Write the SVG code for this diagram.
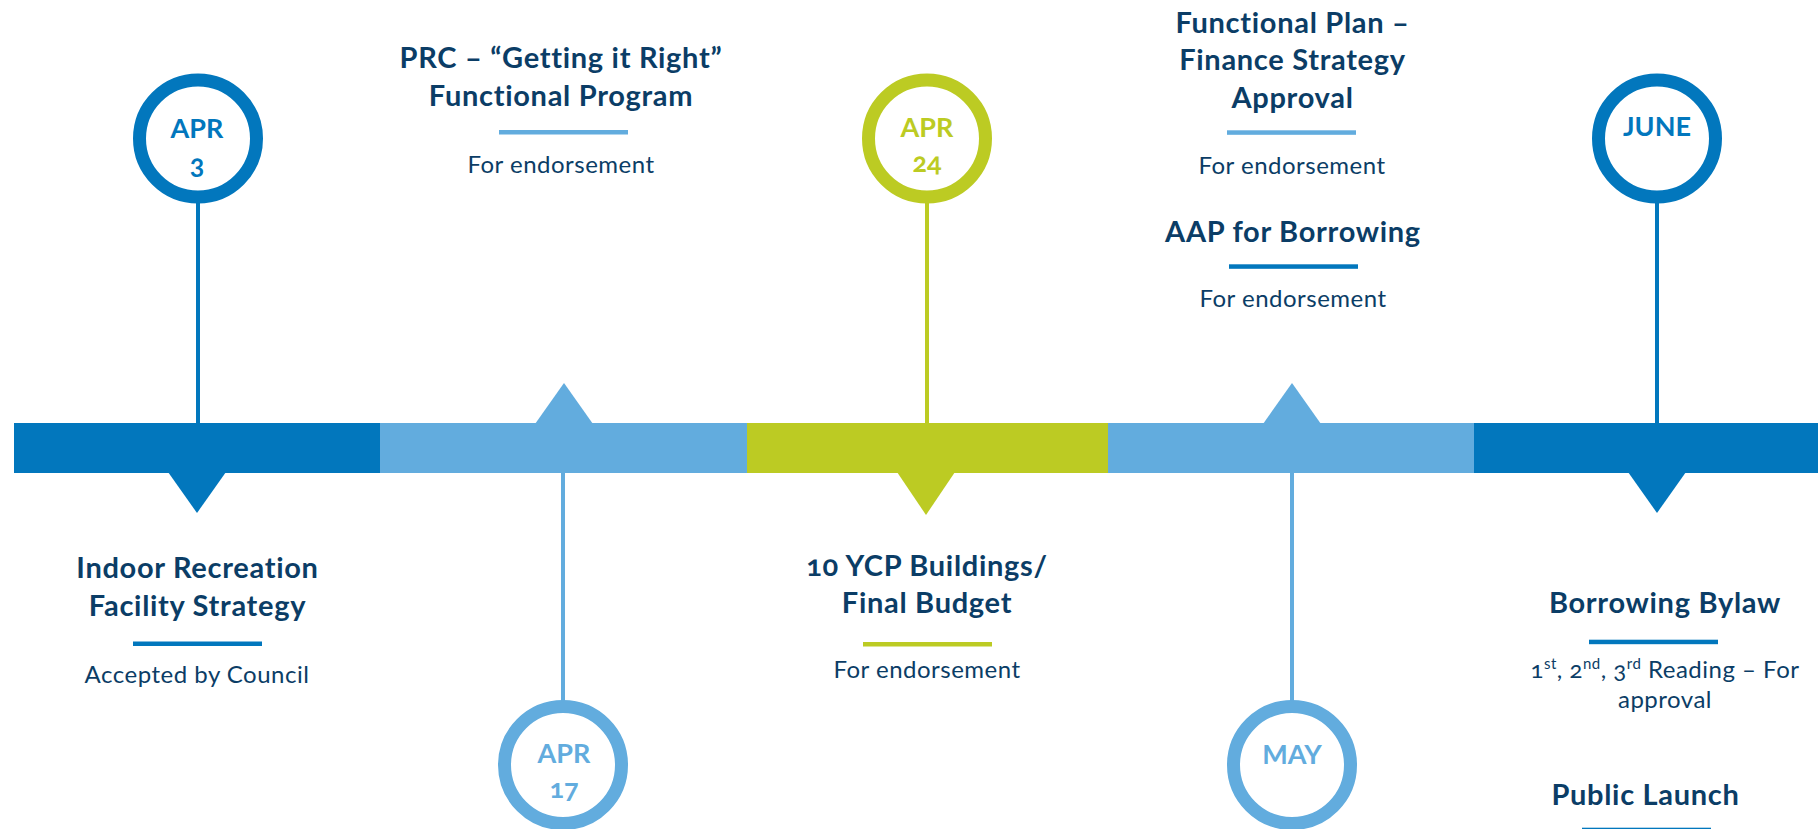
<svg xmlns="http://www.w3.org/2000/svg" width="1818" height="829" viewBox="0 0 1818 829">
  <style>
    .head { font-family: Lato, "Open Sans", "Liberation Sans", sans-serif; font-weight: 700; font-size: 29px; letter-spacing: 0.7px; fill: #0b3d66; text-anchor: middle; }
    .sub { font-family: Lato, "Open Sans", "Liberation Sans", sans-serif; font-weight: 400; font-size: 24px; letter-spacing: 0.5px; fill: #0b3d66; text-anchor: middle; }
    .date { font-family: Lato, "Open Sans", "Liberation Sans", sans-serif; font-weight: 700; font-size: 27px; text-anchor: middle; font-variant-numeric: oldstyle-nums; }
    .num { font-variant-numeric: oldstyle-nums; }
    .ring { fill: #ffffff; stroke-width: 13; }
    .dark { fill: #0277bd; }
    .light { fill: #62acde; }
    .green { fill: #bccb23; }
    .ring.dark { fill: #ffffff; stroke: #0277bd; }
    .ring.light { fill: #ffffff; stroke: #62acde; }
    .ring.green { fill: #ffffff; stroke: #bccb23; }
    .stem { stroke-width: 4; fill: none; }
  </style>

  <!-- timeline bar: five coloured segments with pointers -->
  <g id="timeline-bar">
    <rect class="dark" x="14" y="423" width="366" height="50"/>
    <rect class="light" x="380" y="423" width="367" height="50"/>
    <rect class="green" x="747" y="423" width="361" height="50"/>
    <rect class="light" x="1108" y="423" width="366" height="50"/>
    <rect class="dark" x="1474" y="423" width="344" height="50"/>
    <polygon class="dark" points="168,472 226,472 197,513"/>
    <polygon class="light" points="535,424 593,424 564,383"/>
    <polygon class="green" points="897,472 955,472 926,515"/>
    <polygon class="light" points="1263,424 1321,424 1292,383"/>
    <polygon class="dark" points="1628,472 1686,472 1657,513"/>
  </g>

  <!-- stems joining each date ring to the bar -->
  <g id="connectors">
    <line class="stem" stroke="#0277bd" x1="198" y1="200" x2="198" y2="424"/>
    <line class="stem" stroke="#62acde" x1="563" y1="472" x2="563" y2="703"/>
    <line class="stem" stroke="#bccb23" x1="927" y1="200" x2="927" y2="424"/>
    <line class="stem" stroke="#62acde" x1="1292" y1="472" x2="1292" y2="703"/>
    <line class="stem" stroke="#0277bd" x1="1657" y1="200" x2="1657" y2="424"/>
  </g>

  <!-- April 3 -->
  <g id="apr3">
    <circle class="ring dark" cx="198" cy="138.5" r="58.5"/>
    <text class="date" fill="#0277bd" x="197" y="137.5">APR</text>
    <text class="date" fill="#0277bd" x="197" y="174">3</text>
    <text class="head" x="197.5" y="578">Indoor Recreation</text>
    <text class="head" x="197.5" y="616">Facility Strategy</text>
    <rect class="dark" x="133" y="641.5" width="129" height="4.5"/>
    <text class="sub" x="197" y="682.5">Accepted by Council</text>
  </g>

  <!-- April 17 -->
  <g id="apr17">
    <circle class="ring light" cx="563" cy="765" r="58.5"/>
    <text class="date" fill="#62acde" x="564" y="762.5">APR</text>
    <text class="date" fill="#62acde" x="564" y="798">17</text>
    <text class="head" x="561" y="67.5">PRC – “Getting it Right”</text>
    <text class="head" x="561" y="106">Functional Program</text>
    <rect class="light" x="499" y="130" width="129" height="4.5"/>
    <text class="sub" x="561" y="173">For endorsement</text>
  </g>

  <!-- April 24 -->
  <g id="apr24">
    <circle class="ring green" cx="927" cy="138.5" r="58.5"/>
    <text class="date" fill="#bccb23" x="927" y="136.5">APR</text>
    <text class="date" fill="#bccb23" x="927" y="172">24</text>
    <text class="head" x="927" y="576"><tspan class="num">10</tspan> YCP Buildings/</text>
    <text class="head" x="927" y="613">Final Budget</text>
    <rect class="green" x="863" y="642" width="129" height="4.5"/>
    <text class="sub" x="927" y="678">For endorsement</text>
  </g>

  <!-- May -->
  <g id="may">
    <circle class="ring light" cx="1292" cy="765" r="58.5"/>
    <text class="date" fill="#62acde" x="1292" y="764">MAY</text>
    <text class="head" x="1292.5" y="32.5">Functional Plan –</text>
    <text class="head" x="1292.5" y="70">Finance Strategy</text>
    <text class="head" x="1292.5" y="108">Approval</text>
    <rect class="light" x="1227" y="130.3" width="129" height="4.5"/>
    <text class="sub" x="1292" y="174">For endorsement</text>
    <text class="head" x="1293" y="241.5">AAP for Borrowing</text>
    <rect class="dark" x="1229" y="264.3" width="129" height="4.5"/>
    <text class="sub" x="1293" y="307">For endorsement</text>
  </g>

  <!-- June -->
  <g id="june">
    <circle class="ring dark" cx="1657" cy="138.5" r="58.5"/>
    <text class="date" fill="#0277bd" x="1657" y="136">JUNE</text>
    <text class="head" x="1665" y="612.5">Borrowing Bylaw</text>
    <rect class="dark" x="1589" y="639.7" width="129" height="4.5"/>
    <text class="sub" x="1665" y="677.5" letter-spacing="0"><tspan class="num">1</tspan><tspan font-size="15" dy="-9">st</tspan><tspan dy="9">, </tspan><tspan class="num">2</tspan><tspan font-size="15" dy="-9">nd</tspan><tspan dy="9">, </tspan><tspan class="num">3</tspan><tspan font-size="15" dy="-9">rd</tspan><tspan dy="9"> Reading – For</tspan></text>
    <text class="sub" x="1665" y="708">approval</text>
    <text class="head" x="1645.5" y="805">Public Launch</text>
    <rect class="dark" x="1582" y="827.7" width="129" height="4.5"/>
  </g>
</svg>
